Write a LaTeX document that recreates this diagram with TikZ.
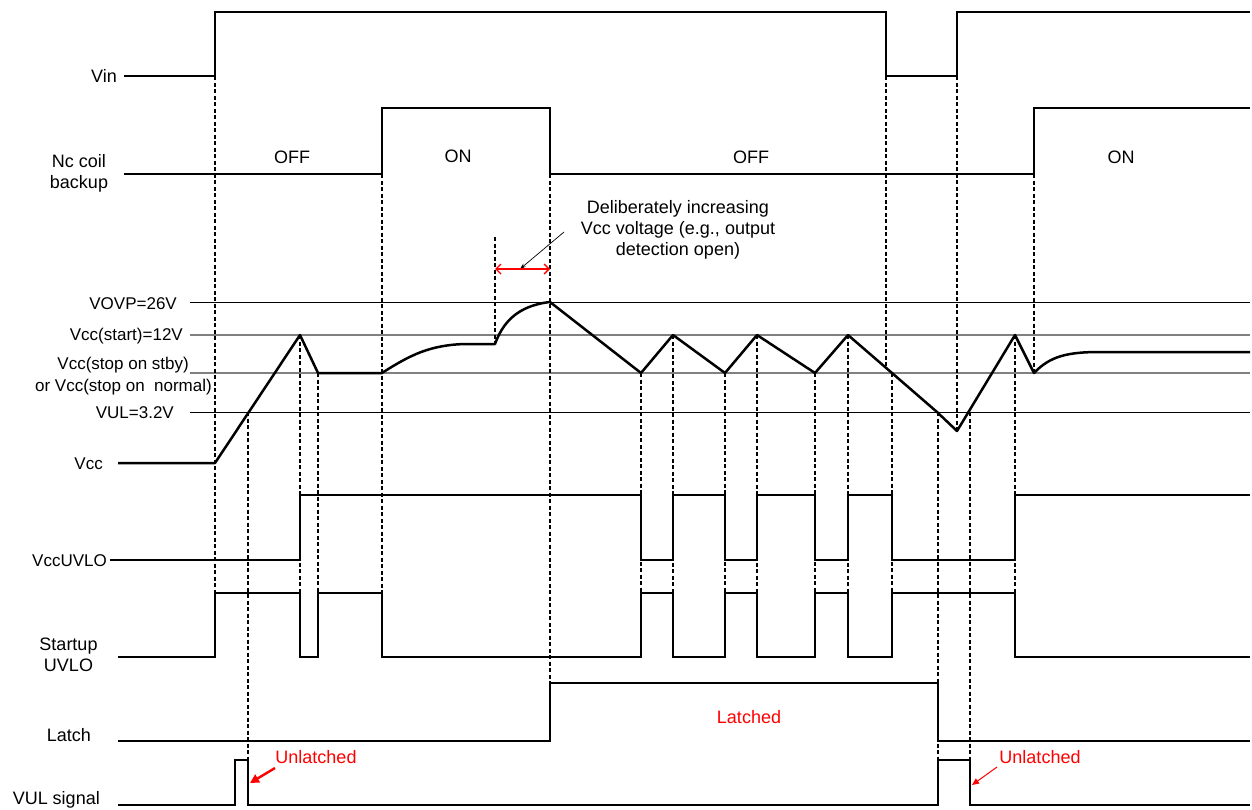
\documentclass[tikz,border=0pt]{standalone}
\usepackage{fontspec}
\setmainfont{Liberation Sans}
\usetikzlibrary{arrows.meta}
\begin{document}
\begin{tikzpicture}[x=1pt,y=-1pt,
  sig/.style={line width=2.5pt, line join=miter, line cap=butt},
  guide/.style={line width=1.3pt, dash pattern=on 4pt off 2.5pt},
  refline/.style={line width=0.9pt},
  grayref/.style={line width=1.1pt, draw=black!50},
  lab/.style={font=\fontsize{18}{21}\selectfont, inner sep=0pt},
  vlab/.style={font=\fontsize{17}{20}\selectfont, inner sep=0pt, anchor=base east},
  redlab/.style={lab, text=red, anchor=base}
]
\useasboundingbox (0,0) rectangle (1252,809);

% reference levels
\draw[refline] (190,302) -- (1250,302);
\draw[grayref] (190,335) -- (1250,335);
\draw[grayref] (190,373) -- (1250,373);
\draw[refline] (190,412) -- (1250,412);

% dashed guides
\draw[guide] (215,76) -- (215,593);
\draw[guide] (248,412) -- (248,760);
\draw[guide] (300,335) -- (300,593);
\draw[guide] (318,373) -- (318,593);
\draw[guide] (382,174) -- (382,593);
\draw[guide] (495,237) -- (495,344);
\draw[guide] (550,174) -- (550,683);
\draw[guide] (641,373) -- (641,593);
\draw[guide] (673,335) -- (673,593);
\draw[guide] (725,373) -- (725,593);
\draw[guide] (757,335) -- (757,593);
\draw[guide] (815,373) -- (815,593);
\draw[guide] (848,335) -- (848,593);
\draw[guide] (886,76) -- (886,368);
\draw[guide] (892,373) -- (892,593);
\draw[guide] (938,412) -- (938,760);
\draw[guide] (957,76) -- (957,431);
\draw[guide] (970,412) -- (970,760);
\draw[guide] (1015,335) -- (1015,593);
\draw[guide] (1034,174) -- (1034,373);

% Vin
\draw[sig] (124,76) -- (215,76) -- (215,12) -- (886,12) -- (886,76) -- (957,76) -- (957,12) -- (1250,12);
% Nc coil backup
\draw[sig] (124,174) -- (382,174) -- (382,108) -- (550,108) -- (550,174) -- (1034,174) -- (1034,108) -- (1250,108);
% Vcc
\draw[sig, line join=round] (118,463) -- (215,463) -- (300,335) -- (318,373) -- (382,373)
  .. controls (410,355) and (430,345) .. (465,344) -- (495,344)
  .. controls (502,325) and (515,306) .. (550,302)
  -- (641,373) -- (673,335) -- (725,373) -- (757,335) -- (815,373) -- (848,335)
  -- (892,373) -- (937,412) -- (957,431) -- (1015,335) -- (1034,373)
  .. controls (1050,356) and (1068,352) .. (1100,352) -- (1250,352);
% VccUVLO
\draw[sig] (110,560) -- (300,560) -- (300,495) -- (641,495) -- (641,560) -- (673,560) -- (673,495)
  -- (725,495) -- (725,560) -- (757,560) -- (757,495) -- (815,495) -- (815,560) -- (848,560)
  -- (848,495) -- (892,495) -- (892,560) -- (1015,560) -- (1015,495) -- (1250,495);
% Startup UVLO
\draw[sig] (118,657) -- (215,657) -- (215,593) -- (300,593) -- (300,657) -- (318,657) -- (318,593)
  -- (382,593) -- (382,657) -- (641,657) -- (641,593) -- (673,593) -- (673,657) -- (725,657)
  -- (725,593) -- (757,593) -- (757,657) -- (815,657) -- (815,593) -- (848,593) -- (848,657)
  -- (892,657) -- (892,593) -- (1015,593) -- (1015,657) -- (1250,657);
% Latch
\draw[sig] (118,741) -- (550,741) -- (550,683) -- (938,683) -- (938,741) -- (1250,741);
% VUL signal
\draw[sig] (118,805) -- (235,805) -- (235,760) -- (248,760) -- (248,805) -- (938,805) -- (938,760)
  -- (970,760) -- (970,805) -- (1250,805);

% left labels
\node[lab, anchor=base east] (lvin) at (117,82.4) {Vin};
\node[lab, align=center] (lnc) at (79,173) {Nc coil\\backup};
\node[vlab] (lovp) at (177,309.1) {VOVP=26V};
\node[vlab] (lstart) at (183,340.1) {Vcc(start)=12V};
\node[vlab] (lstop) at (189,369.1) {Vcc(stop on stby)};
\node[vlab] (lstopn) at (212,391.1) {or Vcc(stop on\ \ normal)};
\node[vlab] (lvul) at (174,418.1) {VUL=3.2V};
\node[vlab] (lvcc) at (103,469.1) {Vcc};
\node[vlab] (luvlo) at (107,566.1) {VccUVLO};
\node[lab, align=center] (lsu) at (68.5,655) {Startup\\UVLO};
\node[lab, anchor=base east] (llatch) at (91,741.4) {Latch};
\node[lab, anchor=base east] (lvulsig) at (100,804.4) {VUL signal};

% state labels
\node[lab, anchor=base] (off1) at (292,163) {OFF};
\node[lab, anchor=base] (on1) at (458,162.5) {ON};
\node[lab, anchor=base] (off2) at (751,163) {OFF};
\node[lab, anchor=base] (on2) at (1121,163) {ON};

% annotation
\node[lab, align=center] (note) at (678,230) {Deliberately increasing\\Vcc voltage (e.g., output\\detection open)};
\coordinate (na) at (564,232);
\coordinate (nb) at (520,269);
\draw[line width=0.7pt, -{Stealth[length=6pt,width=4pt]}] (na) -- (nb);
\coordinate (da) at (495,269);
\coordinate (db) at (550,269);
\draw[red, line width=1.4pt, {Straight Barb[length=5pt,width=10pt]}-{Straight Barb[length=5pt,width=10pt]}] (da) -- (db);

% latch labels
\node[redlab] (latched) at (749,723.4) {Latched};
\node[redlab] (unl1) at (316,763.4) {Unlatched};
\node[redlab] (unl2) at (1040,763.4) {Unlatched};
\coordinate (ua) at (275,768);
\coordinate (ub) at (250,783);
\draw[red, line width=2.4pt, -{Triangle[length=9pt,width=9pt]}] (ua) -- (ub);
\coordinate (va) at (997,767);
\coordinate (vb) at (972,785);
\draw[red, line width=1pt, -{Triangle[length=7pt,width=6pt]}] (va) -- (vb);
\end{tikzpicture}
\end{document}
